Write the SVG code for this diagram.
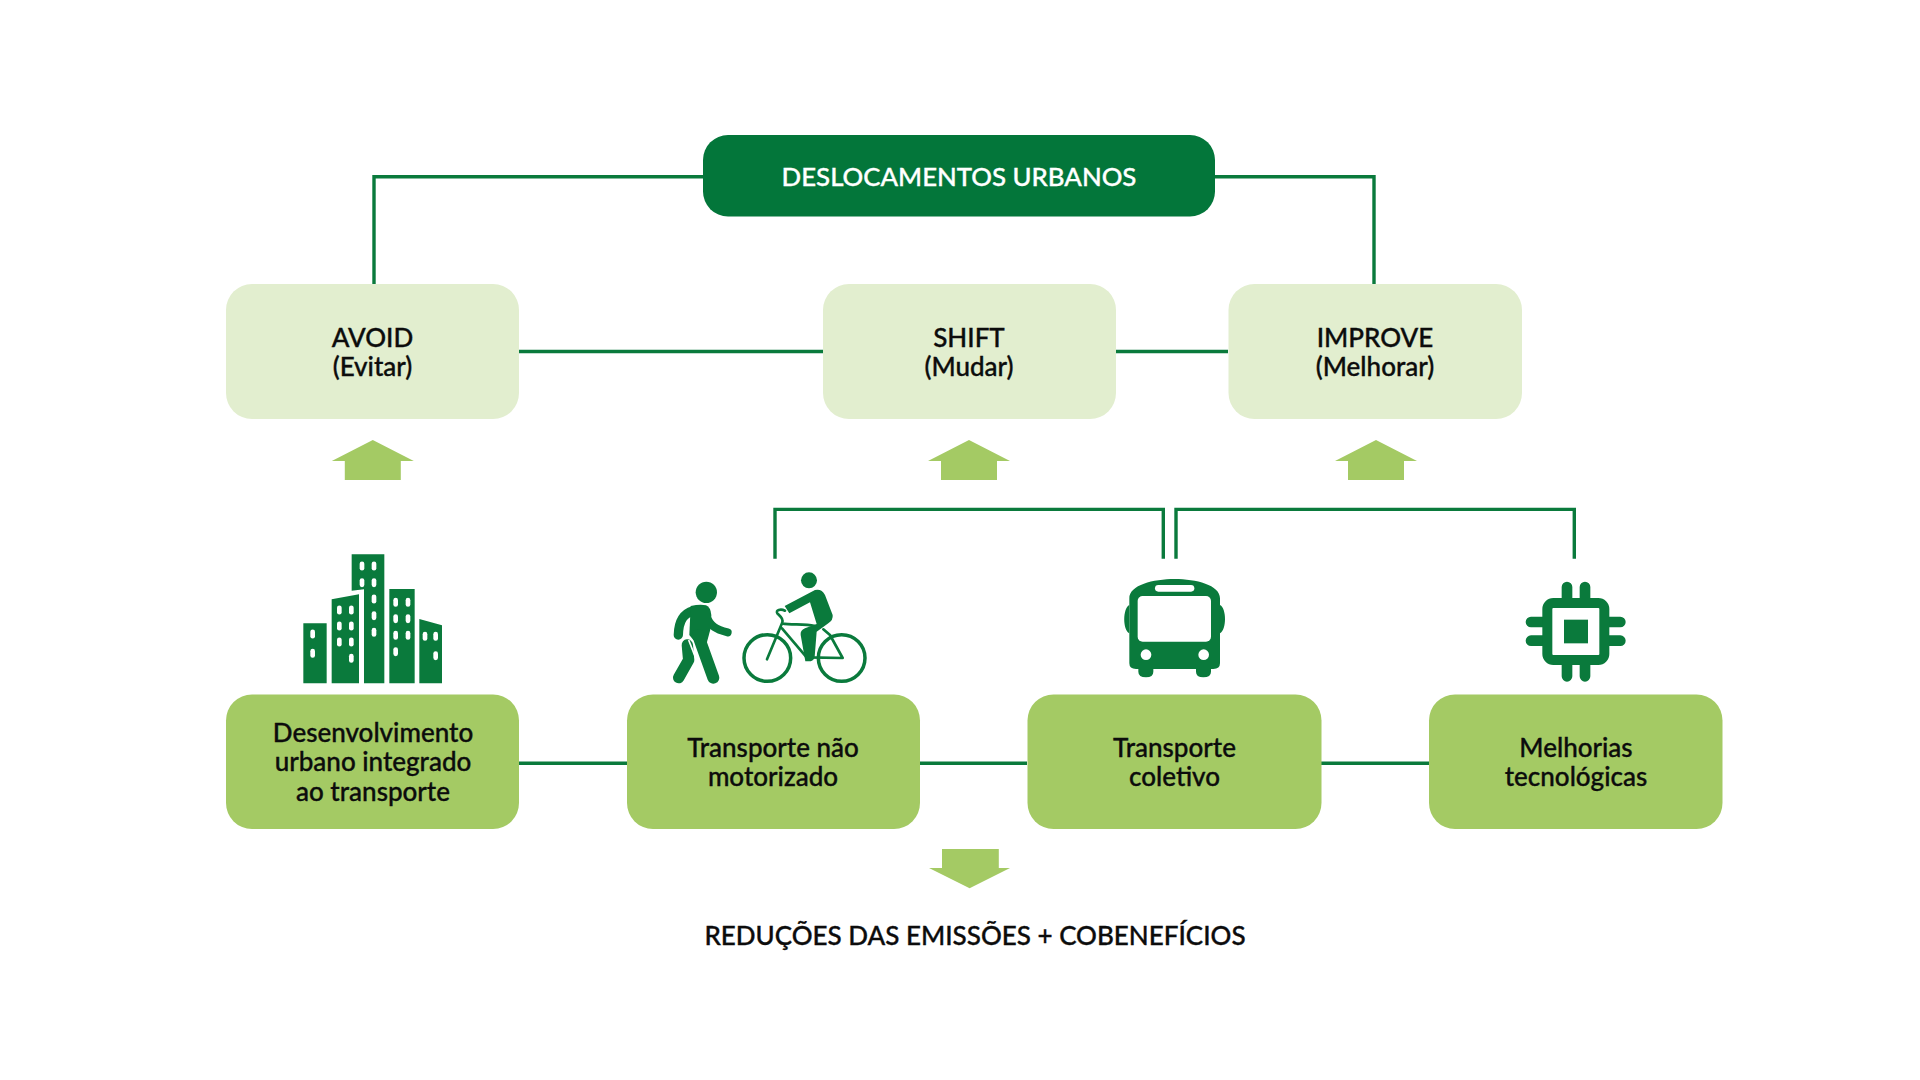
<svg xmlns="http://www.w3.org/2000/svg" width="1920" height="1080" viewBox="0 0 1920 1080">
<style>
text{font-family:"Lato","Noto Sans",sans-serif;font-size:26px;fill:#0c0c0c;stroke:#0c0c0c;stroke-width:.35;text-anchor:middle;font-weight:500}
text.t{fill:#fff;stroke:#fff;font-size:25.800px}
.top{fill:#03763a}
.l{fill:#e2eecf}
.m{fill:#a4ca64}
.c{fill:none;stroke:#0a7a3c;stroke-width:3.4}
.a{fill:#a4ca64}
.g{fill:#0a7a3c}
.w{fill:#fff}
.s{fill:none;stroke:#0a7a3c;stroke-linecap:round;stroke-linejoin:round}
</style>
<defs>
<polygon id="up" points="0,-20 41,1 28,1 28,20 -28,20 -28,1 -41,1"/>
<rect id="pill" x="-7" y="-13.500" width="14" height="27" rx="7"/>
</defs>
<rect width="1920" height="1080" fill="#fff"/>
<g id="connectors" class="c">
<path class="c" d="M703 176.700H374V284"/>
<path class="c" d="M1215 176.700H1374V284"/>
<path class="c" d="M519 351.500H823M1116 351.500H1228"/>
<path class="c" d="M775 558.700V509.400H1163.300V558.700"/>
<path class="c" d="M1176 558.700V509.400H1574.300V558.700"/>
<path class="c" d="M519 763.300H627M920 763.300H1027M1321 763.300H1429"/>
</g>
<g id="arrows" class="a">
<use href="#up" x="372.800" y="460"/>
<use href="#up" x="969" y="460"/>
<use href="#up" x="1376" y="460"/>
<polygon points="942,849 998.800,849 998.800,868 1010,868 969.600,888.300 929,868 942,868"/>
</g>
<g id="node-top"><rect class="top" x="703" y="135" width="512" height="81.500" rx="25"/><text class="t" x="959" y="186">DESLOCAMENTOS URBANOS</text></g>
<g id="node-avoid"><rect class="l" x="226" y="284" width="293" height="135" rx="26"/><text x="372.500" y="347">AVOID</text><text x="372.500" y="376">(Evitar)</text></g>
<g id="node-shift"><rect class="l" x="823" y="284" width="293" height="135" rx="26"/><text x="969" y="347">SHIFT</text><text x="969" y="376">(Mudar)</text></g>
<g id="node-improve"><rect class="l" x="1228.500" y="284" width="293.500" height="135" rx="26"/><text x="1375" y="347">IMPROVE</text><text x="1375" y="376">(Melhorar)</text></g>
<g id="node-urbano"><rect class="m" x="226" y="694.500" width="293" height="134.500" rx="26"/><text x="373" y="742">Desenvolvimento</text><text x="373" y="771">urbano integrado</text><text x="373" y="801">ao transporte</text></g>
<g id="node-naomotorizado"><rect class="m" x="627" y="694.500" width="293" height="134.500" rx="26"/><text x="773" y="757">Transporte não</text><text x="773" y="786">motorizado</text></g>
<g id="node-coletivo"><rect class="m" x="1027.500" y="694.500" width="294" height="134.500" rx="26"/><text x="1174.500" y="757">Transporte</text><text x="1174.500" y="786">coletivo</text></g>
<g id="node-tecnologicas"><rect class="m" x="1429" y="694.500" width="293.500" height="134.500" rx="26"/><text x="1576" y="757">Melhorias</text><text x="1576" y="786">tecnológicas</text></g>
<g id="icon-buildings" transform="translate(290 545) scale(.33333)">
<path class="g" d="M40 235H110V415H40ZM125 163L207 148V415H125ZM185 28H283V415H222V133L185 137ZM298 132H374V415H298ZM388 222L456 241V415H388Z"/>
<g class="w">
<use href="#pill" x="68" y="267"/><use href="#pill" x="68" y="325"/>
<use href="#pill" x="148" y="195"/><use href="#pill" x="184" y="195"/><use href="#pill" x="148" y="243"/><use href="#pill" x="184" y="243"/><use href="#pill" x="148" y="291"/><use href="#pill" x="184" y="291"/><use href="#pill" x="184" y="340"/>
<use href="#pill" x="216" y="63"/><use href="#pill" x="252" y="63"/><use href="#pill" x="216" y="113"/><use href="#pill" x="252" y="113"/><use href="#pill" x="252" y="162"/><use href="#pill" x="252" y="212"/><use href="#pill" x="252" y="262"/>
<use href="#pill" x="317" y="172"/><use href="#pill" x="354" y="172"/><use href="#pill" x="317" y="221"/><use href="#pill" x="354" y="221"/><use href="#pill" x="317" y="271"/><use href="#pill" x="354" y="271"/><use href="#pill" x="317" y="320"/>
<use href="#pill" x="405" y="274"/><use href="#pill" x="437" y="274"/><use href="#pill" x="437" y="332"/>
</g>
</g>
<g id="icon-walk-bike" transform="translate(660 560) scale(.33333)">
<circle class="g" cx="139" cy="97" r="32"/>
<path class="s" stroke-width="34" d="M82 255L86 300L56 353"/>
<path class="s" stroke-width="28" d="M100 152C72 160 56 180 55 225"/>
<path class="s" stroke-width="24" d="M138 165C150 200 170 208 203 217"/>
<path fill="none" stroke="#fff" stroke-width="5" d="M86 240L118 322"/>
<path class="g" d="M92 138Q120 132 138 136Q152 142 154 165L152 205L140 250L100 240L88 225Z"/>
<path class="s" stroke-width="36" d="M114 225L160 353"/>
<circle class="g" cx="447" cy="61" r="24"/>
<path class="g" d="M374 138L465 90Q485 85 495 105L518 165Q520 180 505 190L470 215L464 290Q462 304 445 304H436L422 225Q420 212 435 205L470 192L450 127L388 160Z"/>
<g class="s" stroke-width="10.500">
<circle cx="322" cy="294" r="70"/>
<circle cx="545" cy="294" r="70"/>
</g>
<path class="s" stroke-width="8" d="M321 298L366 190C372 178 362 170 352 160C346 150 362 146 375 152M366 190C395 196 430 190 465 198M366 205L440 292L548 294L510 225L490 208"/>
</g>
<g id="icon-bus" transform="translate(1110 570) scale(.33333)">
<path class="g" d="M58 85C58 45 130 27 194 27C258 27 330 45 330 85V280Q330 297 310 297H303V305Q303 322 280 322Q258 322 258 305V297H130V305Q130 322 108 322Q85 322 85 305V297H78Q58 297 58 280Z"/>
<path class="g" d="M58 105C38 115 38 180 58 190ZM330 105C350 115 350 180 330 190Z"/>
<rect class="w" x="83" y="78" width="220" height="137" rx="15"/>
<rect class="w" x="135" y="45" width="118" height="20" rx="10"/>
<circle class="w" cx="108" cy="254" r="16"/><circle class="w" cx="281" cy="254" r="16"/>
</g>
<g id="icon-chip" transform="translate(1510 570) scale(.33333)">
<path class="s" stroke-width="32" d="M171 51V100M225 51V100M171 270V319M225 270V319M63 156H110M63 212H110M285 156H331M285 212H331"/>
<rect x="112" y="99" width="171" height="171" rx="18" fill="#fff" stroke="#0a7a3c" stroke-width="30"/>
<rect class="g" x="162" y="149" width="72" height="71"/>
</g>
<g id="label-result"><text x="975" y="945">REDUÇÕES DAS EMISSÕES + COBENEFÍCIOS</text></g>
</svg>
